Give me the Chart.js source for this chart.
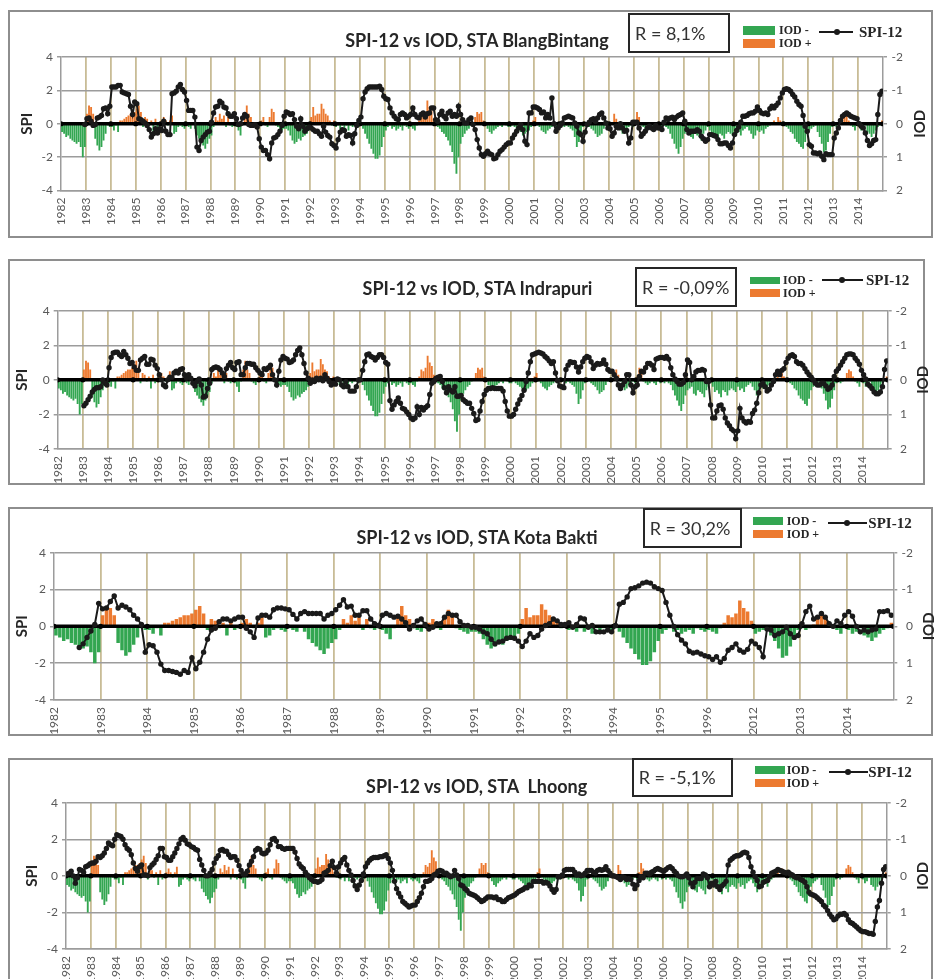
<!DOCTYPE html>
<html>
<head>
<meta charset="utf-8">
<title>SPI-12 vs IOD</title>
<script src="https://cdn.jsdelivr.net/npm/chart.js@4.4.0/dist/chart.umd.min.js"></script>
<style>
html,body{margin:0;padding:0;background:#fff}
body{position:relative;width:934px;height:979px;overflow:hidden;font-family:Lato,"Open Sans",sans-serif}
.box{position:absolute;border:2px solid #8e8e8e;box-sizing:border-box}
.cv{position:absolute;left:0}
.ttl{position:absolute;text-align:center;font-weight:700;font-size:18px;color:#262626;white-space:pre;line-height:20px;width:500px}
.rbox{position:absolute;box-sizing:border-box;border:2px solid #262626;background:#fff;font-size:18px;color:#333;display:flex;align-items:center;padding-left:5px;white-space:pre}
.sw{position:absolute}
.lt{position:absolute;font-family:"Liberation Serif",serif;font-weight:700;color:#262626;white-space:pre}
.ln{position:absolute;height:2px;background:#1a1a1a}
.dot{position:absolute;width:6px;height:6px;border-radius:50%;background:#1a1a1a}
</style>
</head>
<body>
<script>
// ---------------- DATA ----------------
const yearsFull = ['1982','1983','1984','1985','1986','1987','1988','1989','1990','1991','1992','1993','1994','1995','1996','1997','1998','1999','2000','2001','2002','2003','2004','2005','2006','2007','2008','2009','2010','2011','2012','2013','2014'];
const yearsKotaBakti = ['1982','1983','1984','1985','1986','1987','1988','1989','1990','1991','1992','1993','1994','1995','1996','2012','2013','2014'];
const stationTitles = ['SPI-12 vs IOD, STA BlangBintang','SPI-12 vs IOD, STA Indrapuri','SPI-12 vs IOD, STA Kota Bakti','SPI-12 vs IOD, STA  Lhoong'];
const correlationLabels = ['R = 8,1%','R = -0,09%','R = 30,2%','R = -5,1%'];
const legendLabels = ['IOD -','IOD +','SPI-12'];
const axisTitles = ['SPI','IOD'];

// monthly IOD, 1982-2014, values as read on the (reversed) right axis
const iodMonthly = [
 0.25,0.3,0.4,0.35,0.45,0.5,0.55,0.6,0.55,0.7,1.0,0.7,        //1982
 -0.3,-0.55,-0.5,-0.3,0.45,0.65,0.8,0.7,0.5,0.3,0.05,0.1,     //1983
 0.1,0.2,0.05,0.25,-0.1,-0.1,-0.15,-0.2,-0.25,-0.3,-0.3,-0.35,//1984
 -0.45,-0.55,-0.35,0.1,-0.2,-0.15,0.05,-0.1,0.25,-0.15,0.1,0.05,//1985
 -0.1,-0.2,-0.1,0.05,-0.1,-0.25,0.3,0.25,0.1,0.05,0.1,0.15,   //1986
 0.05,0.1,0.15,0.0,0.15,0.35,0.45,0.55,0.65,0.75,0.6,0.45,    //1987
 0.35,0.1,-0.2,-0.1,-0.3,-0.15,-0.25,0.1,-0.2,0.05,0.1,0.05,  //1988
 0.1,0.2,0.35,0.05,-0.3,-0.55,-0.3,-0.2,0.05,0.1,0.15,0.05,   //1989
 -0.1,-0.2,0.05,0.1,-0.2,-0.45,-0.35,0.05,0.1,0.15,0.2,0.15,  //1990
 0.15,0.2,0.35,0.5,0.6,0.55,0.45,0.5,0.4,0.35,0.3,0.2,        //1991
 -0.2,-0.5,-0.25,-0.3,-0.3,-0.6,-0.45,-0.3,-0.25,-0.1,0.05,-0.1,//1992
 0.1,0.05,0.15,0.05,0.15,0.05,0.2,0.05,0.1,0.05,0.05,0.1,     //1993
 0.05,0.15,0.3,0.45,0.6,0.75,0.9,1.05,1.05,0.95,0.7,0.4,      //1994
 0.2,0.1,0.05,0.15,0.1,0.2,0.15,0.1,0.2,0.05,0.1,0.15,        //1995
 0.1,0.15,0.2,0.05,-0.1,-0.3,-0.25,-0.35,-0.7,-0.5,-0.4,-0.15,//1996
 0.05,0.1,0.15,0.25,0.3,0.4,0.5,0.65,0.85,1.2,1.5,1.0,        //1997
 0.6,0.4,0.3,0.2,0.15,0.05,-0.05,-0.2,-0.35,-0.3,-0.35,-0.1,  //1998
 0.05,0.15,0.25,0.3,0.2,0.15,0.1,0.05,0.1,0.0,0.05,0.1,       //1999
 0.1,0.05,0.1,0.15,0.2,0.25,0.35,0.3,0.25,0.2,0.1,-0.1,       //2000
 -0.2,0.05,0.1,0.2,0.25,0.3,0.2,0.15,0.1,0.05,0.1,0.05,       //2001
 0.05,0.05,0.1,0.05,0.1,0.15,0.2,0.4,0.7,0.55,0.3,0.1,        //2002
 0.05,0.05,0.1,0.15,0.2,0.3,0.4,0.35,0.3,0.15,0.05,0.05,      //2003
 0.05,-0.05,-0.3,-0.15,0.05,0.2,0.3,0.25,0.15,0.1,0.05,0.1,   //2004
 -0.1,-0.35,-0.2,0.05,0.1,0.15,0.1,0.05,0.1,0.15,0.05,0.1,    //2005
 0.05,0.1,0.05,0.1,0.15,0.3,0.45,0.6,0.75,0.9,0.7,0.45,       //2006
 0.3,0.25,0.2,0.4,0.45,0.3,0.35,0.4,0.5,0.3,0.2,0.1,          //2007
 0.2,0.35,0.3,0.4,0.5,0.3,0.35,0.45,0.3,0.25,0.3,0.35,        //2008
 0.2,0.3,0.25,0.35,0.2,0.15,0.1,0.2,0.3,0.45,0.35,0.2,        //2009
 0.25,0.2,0.3,0.15,0.1,0.05,-0.05,-0.1,-0.05,-0.2,-0.1,0.05,  //2010
 0.05,0.1,0.15,0.25,0.3,0.45,0.55,0.6,0.7,0.75,0.55,0.3,      //2011
 0.2,0.15,0.1,0.05,0.25,0.4,0.6,0.85,0.8,0.55,0.3,0.1,        //2012
 0.05,0.1,0.05,-0.05,-0.2,-0.3,-0.25,-0.1,0.05,0.1,0.2,0.05,  //2013
 0.1,0.2,0.15,0.05,0.25,0.3,0.4,0.3,0.2,0.1,0.05,-0.1         //2014
];

const spiBlangBintang = [
 null,null,null,null,null,null,null,null,null,null,null,-0.05,
 0.3,0.35,0.15,-0.1,-0.05,0.35,0.4,0.5,0.9,0.95,0.6,1.05,
 2.2,2.2,2.2,2.3,2.3,1.9,1.85,1.8,1.75,1.05,0.55,1.3,
 1.2,0.3,0.25,0.15,0.05,-0.1,-0.35,-0.8,-0.6,-0.3,-0.55,-0.3,
 -0.4,0.15,-0.45,-0.65,-0.65,1.8,1.85,1.95,2.2,2.35,2.05,1.9,
 1.4,0.8,0.8,0.8,0.4,-1.4,-1.6,-1.0,-0.8,-0.65,-0.5,-0.45,
 0.1,0.65,1.0,1.05,1.35,1.25,1.0,0.95,0.6,0.45,0.45,0.6,
 0.3,-0.05,0.0,0.35,0.55,0.45,-0.05,-0.1,-0.1,-0.05,-0.2,-0.9,
 -1.4,-1.6,-1.6,-1.85,-2.1,-1.15,-0.85,-0.8,-0.65,-0.45,-0.1,0.45,
 0.7,0.65,0.55,0.6,0.25,-0.15,-0.3,0.3,-0.15,-0.45,-0.3,-0.2,
 -0.25,-0.35,-0.45,-0.45,-0.6,-0.75,-0.15,-0.5,-0.7,-0.8,-1.2,-1.3,
 -1.45,-0.95,-0.5,-0.35,-0.4,-0.75,-0.65,-0.7,-1.15,-0.6,-0.1,0.2,
 0.4,1.5,1.9,2.1,2.2,2.2,2.2,2.2,2.2,2.25,2.05,1.65,
 1.5,1.45,0.95,0.65,0.45,0.3,0.25,0.55,0.65,0.55,0.35,0.45,
 0.55,0.95,0.55,0.4,0.35,0.55,0.65,0.4,0.6,0.65,0.95,0.95,
 0.25,0.15,0.55,0.75,0.45,0.3,0.65,0.75,0.45,0.55,0.45,1.05,
 0.55,0.25,0.05,0.05,0.25,0.35,-0.05,-0.35,-0.95,-1.45,-1.85,-1.95,
 -1.8,-1.65,-1.8,-1.85,-2.1,-2.05,-1.85,-1.65,-1.55,-1.4,-1.25,-1.15,
 -1.15,-0.85,-0.65,-0.45,-0.25,-0.05,-0.35,-1.05,-1.25,0.65,0.65,1.0,
 1.0,0.95,0.85,0.65,0.7,0.35,0.55,0.35,1.55,0.0,-0.45,-0.25,
 -0.1,0.05,0.35,0.4,0.45,0.4,0.35,0.05,-0.15,-0.55,-0.65,-1.05,
 -0.5,-0.05,0.1,0.25,0.3,0.15,0.35,0.55,0.65,0.35,0.05,-0.25,
 -0.3,-0.75,-0.55,-0.15,-0.25,0.0,-0.25,-0.45,-0.4,-1.15,-0.85,0.1,
 0.1,0.1,-0.25,-0.75,-0.6,-0.45,-0.25,-0.15,-0.25,-0.35,-0.1,-0.25,
 -0.25,-0.35,0.1,0.35,0.25,0.35,0.4,0.25,0.4,0.5,0.55,0.65,
 0.15,-0.35,-0.55,-0.45,-0.45,-0.45,-0.35,-0.45,-0.75,-0.9,-1.05,-0.95,
 -0.65,-0.65,-0.7,-0.75,-0.95,-1.2,-1.2,-1.15,-1.15,-1.3,-1.45,-1.15,
 -0.65,-0.4,-0.2,0.1,0.45,0.45,0.5,0.6,0.65,0.65,0.75,1.0,
 0.8,0.65,0.6,0.65,0.55,0.9,1.05,0.95,1.1,1.25,1.55,1.85,
 2.05,2.1,2.05,1.95,1.75,1.6,1.35,1.15,1.05,0.5,-0.15,-0.45,
 -1.25,-1.35,-1.75,-1.75,-1.8,-1.75,-1.95,-2.15,-1.8,-1.85,-1.85,-1.85,
 -0.85,-0.55,-0.25,0.2,0.45,0.55,0.65,0.55,0.45,0.4,0.35,0.3,
 0.0,-0.15,-0.25,-0.55,-1.0,-1.3,-1.2,-1.0,-0.95,0.55,1.75,1.95
];

const spiIndrapuri = [
 null,null,null,null,null,null,null,null,null,null,null,null,
 -1.5,-1.35,-1.15,-0.95,-0.7,-0.55,-0.45,-0.45,-0.4,0.0,-0.2,-0.3,
 0.7,1.3,1.55,1.6,1.6,1.45,1.35,1.65,1.45,1.25,0.95,1.0,
 0.75,0.55,0.55,1.15,1.25,1.35,0.9,0.9,1.2,1.15,0.85,0.65,
 0.3,0.0,-0.3,-0.4,0.0,0.15,0.15,0.4,0.5,0.4,0.6,0.65,
 0.3,0.1,0.3,0.1,-0.2,-0.35,-0.1,0.05,-0.3,-1.0,-0.95,-0.5,
 -0.2,0.6,0.7,0.75,0.7,0.6,0.4,0.2,0.65,0.85,1.0,0.7,
 0.6,1.0,1.05,0.3,0.3,0.7,0.95,0.95,0.9,0.9,0.7,0.55,
 0.4,0.3,0.65,0.6,0.7,0.85,0.3,0.0,-0.3,0.5,1.15,1.35,
 1.25,1.2,1.0,1.05,1.15,1.45,1.7,1.85,1.45,0.95,0.4,0.1,
 -0.2,0.0,-0.1,0.1,0.0,0.1,-0.05,0.3,0.1,-0.1,-0.3,-0.2,
 -0.25,0.05,0.0,-0.3,-0.4,-0.1,-0.4,-0.65,-0.65,-0.65,-0.4,0.0,
 0.0,0.55,1.05,1.45,1.5,1.35,1.3,1.15,1.3,1.45,1.45,1.3,
 1.0,0.9,-1.2,-1.7,-1.45,-1.25,-1.05,-1.35,-1.65,-1.7,-1.85,-2.0,
 -2.2,-2.3,-2.2,-1.55,-2.0,-1.6,-1.75,-1.6,-1.5,-0.85,-0.2,-0.1,
 0.1,0.15,0.2,-0.1,-0.45,-0.75,-0.4,-0.6,-0.7,-0.4,-0.95,-0.95,
 -0.9,-1.15,-1.25,-1.35,-1.35,-1.65,-1.95,-2.35,-2.3,-1.8,-1.25,-0.85,
 -0.6,-0.5,-0.5,-0.45,-0.5,-0.5,-0.5,-0.5,-0.65,-1.25,-1.8,-2.1,
 -2.1,-2.0,-1.7,-1.4,-1.15,-0.9,-0.6,-0.1,0.4,1.05,1.45,1.5,
 1.55,1.6,1.55,1.5,1.35,1.25,1.1,0.95,1.05,0.4,-0.05,-0.35,
 -0.4,-0.45,0.6,0.85,1.05,1.0,1.0,0.75,0.45,0.75,1.05,1.25,
 1.35,1.3,1.05,0.65,0.85,0.95,0.9,0.95,1.15,0.9,0.6,0.5,
 0.5,0.3,0.1,-0.3,-0.5,-0.3,-0.1,0.3,0.3,-0.3,-0.75,-0.4,
 -0.3,0.2,0.5,0.45,0.7,0.95,0.95,0.85,0.6,1.2,1.25,1.3,
 1.3,1.25,1.35,1.2,0.7,0.3,0.05,-0.1,-0.25,-0.25,-0.15,0.3,
 1.15,1.0,0.0,0.2,0.45,0.55,0.55,0.6,0.55,-0.1,-0.1,-1.45,
 -2.2,-2.2,-1.8,-1.5,-1.45,-1.7,-2.2,-2.5,-2.65,-2.85,-2.95,-3.4,
 -2.95,-1.65,-2.2,-2.4,-2.5,-2.4,-2.45,-1.95,-1.75,-1.35,-0.75,-0.3,
 -0.2,-0.4,-0.65,-0.55,-0.3,-0.1,0.3,0.5,0.3,0.55,0.65,1.0,
 1.25,1.4,1.45,1.35,1.05,0.95,0.95,0.85,0.65,0.45,0.3,0.15,
 0.0,-0.2,-0.3,-0.3,-0.2,-0.2,-0.35,-0.55,-0.45,-0.3,0.2,0.5,
 0.65,0.85,1.05,1.25,1.45,1.5,1.5,1.45,1.25,1.1,0.9,0.55,
 0.3,0.05,-0.25,-0.35,-0.5,-0.7,-0.8,-0.8,-0.7,-0.4,0.6,1.1
];

// Kota Bakti: 1982-1996 then 2012-2014
const spiKotaBakti = [
 null,null,null,null,null,null,-1.15,-0.95,-0.6,-0.25,0.1,1.25,
 0.95,1.0,1.35,1.65,1.0,1.15,1.05,0.9,0.6,0.4,0.1,-1.4,
 -1.0,-1.05,-1.4,-2.05,-2.4,-2.4,-2.45,-2.5,-2.6,-2.4,-2.5,-1.7,
 -2.3,-1.95,-1.4,-0.7,-0.2,-0.1,0.25,0.4,0.4,0.3,0.4,0.5,
 0.5,-0.1,-0.3,-0.6,0.45,0.6,0.6,0.5,0.9,1.0,1.0,0.95,
 0.9,0.65,0.4,0.7,0.8,0.7,0.7,0.7,0.7,0.4,0.6,0.7,
 0.9,1.15,1.45,1.05,1.1,0.6,0.6,0.85,0.85,0.4,0.15,0.05,
 0.6,0.7,0.6,0.5,0.55,0.4,0.2,-0.15,0.05,0.3,0.4,0.1,
 -0.15,-0.05,0.15,0.15,0.5,0.7,0.6,0.6,0.25,0.05,0.05,-0.05,
 -0.05,-0.15,-0.3,-0.4,-0.7,-0.95,-0.85,-0.8,-0.65,-0.6,-0.65,-0.8,
 -1.1,-0.8,-0.4,-0.6,-0.5,-0.15,0.05,0.15,0.4,0.3,0.1,0.1,
 0.2,-0.05,0.1,0.45,0.4,-0.05,0.05,-0.3,-0.3,-0.3,-0.2,-0.3,
 0.05,1.2,1.3,1.6,2.05,2.1,2.2,2.35,2.4,2.35,2.15,2.05,
 1.95,1.3,0.6,0.0,-0.45,-0.75,-0.95,-1.35,-1.45,-1.4,-1.5,-1.6,
 -1.65,-1.8,-1.65,-1.95,-1.75,-1.3,-1.15,-0.95,-1.3,-1.4,-1.25,-0.8,
 -0.95,-1.15,-1.65,-0.15,-0.2,-0.5,-0.4,-0.3,-0.05,-0.4,-0.6,-0.5,
 0.15,0.8,1.1,0.4,0.5,0.7,0.5,0.15,0.0,0.3,0.15,0.6,
 0.8,0.55,0.0,-0.3,-0.2,-0.3,-0.2,-0.15,0.8,0.8,0.85,0.6
];

const spiLhoong = [
 0.1,0.15,0.25,0.0,-0.4,-0.1,0.35,0.3,0.2,0.5,0.55,0.65,
 0.7,0.7,0.8,1.05,1.0,1.1,1.25,1.5,1.8,1.7,1.65,2.0,
 2.25,2.2,2.15,2.0,1.7,1.5,1.4,1.15,0.7,0.4,0.25,0.5,
 0.6,0.05,0.05,0.0,0.45,0.6,0.7,0.9,1.1,1.5,1.5,1.05,
 1.0,0.85,0.85,1.05,1.25,1.5,1.75,2.0,2.1,1.95,1.75,1.7,
 1.6,1.55,1.45,1.4,0.9,0.6,0.3,0.0,0.0,0.15,0.35,0.7,
 0.95,1.1,1.4,1.45,1.35,1.35,1.15,1.0,1.05,1.05,0.85,0.55,
 0.3,0.1,0.1,0.25,0.6,0.8,1.05,1.4,1.5,1.45,1.25,1.2,
 1.25,1.4,1.7,2.0,2.05,1.9,1.6,1.6,1.5,1.45,1.5,1.5,
 1.5,1.5,1.3,0.95,0.65,0.5,0.4,0.2,0.05,-0.1,-0.2,-0.3,
 -0.3,-0.35,-0.3,-0.2,0.15,0.2,0.3,0.55,0.8,0.45,0.15,0.5,
 0.7,0.9,1.0,0.6,0.3,0.05,-0.25,-0.55,-0.75,-0.5,-0.25,0.1,
 0.5,0.7,0.85,0.95,1.0,1.0,1.0,1.05,1.05,1.1,1.15,0.95,
 0.7,0.3,-0.3,-0.7,-0.95,-1.15,-1.4,-1.5,-1.6,-1.7,-1.65,-1.6,
 -1.6,-1.4,-1.2,-0.95,-0.6,-0.3,-0.3,-0.25,-0.15,0.05,0.1,0.25,
 0.3,0.25,0.15,0.15,0.05,-0.05,0.0,0.3,0.05,-0.15,-0.5,-0.55,
 -0.7,-0.8,-0.95,-1.0,-1.05,-1.1,-1.2,-1.3,-1.4,-1.35,-1.25,-1.15,
 -1.15,-1.15,-1.2,-1.15,-1.3,-1.3,-1.4,-1.4,-1.3,-1.2,-1.15,-1.1,
 -1.05,-0.95,-0.85,-0.8,-0.75,-0.65,-0.65,-0.5,-0.55,-0.3,-0.3,-0.3,
 -0.3,-0.3,-0.4,-0.35,-0.4,-0.55,-0.75,-0.9,-0.75,-0.05,-0.05,0.05,
 0.3,0.35,0.35,0.35,0.35,0.2,0.05,0.1,0.0,0.05,0.15,0.3,
 0.3,0.3,0.2,0.15,0.3,0.35,0.3,0.35,0.5,0.3,0.15,0.0,
 0.0,-0.05,-0.1,-0.2,-0.05,-0.1,-0.2,-0.15,-0.2,-0.45,-0.7,-0.5,
 -0.25,-0.05,-0.1,0.15,0.15,0.1,0.2,0.25,0.35,0.4,0.35,0.3,
 0.25,0.35,0.45,0.5,0.4,0.25,0.15,0.0,-0.05,-0.05,0.0,0.1,
 -0.1,-0.4,-0.6,-0.35,-0.15,-0.15,-0.15,0.1,0.05,-0.1,-0.6,-0.4,
 -0.5,-0.3,-0.6,-0.75,-0.55,-0.45,-0.3,0.6,0.85,0.95,1.05,1.1,
 1.1,1.15,1.25,1.3,1.25,1.0,0.5,0.2,-0.05,-0.25,-0.6,-0.55,
 -0.35,-0.3,-0.25,-0.05,0.15,0.2,0.25,0.35,0.3,0.25,0.2,0.15,
 0.2,0.1,0.05,-0.05,-0.1,-0.1,-0.2,-0.25,-0.35,-0.6,-0.9,-1.0,
 -1.05,-1.1,-1.2,-1.3,-1.4,-1.6,-1.7,-1.9,-2.1,-2.25,-2.4,-2.35,
 -2.2,-2.1,-2.1,-2.05,-2.15,-2.4,-2.55,-2.6,-2.7,-2.8,-2.9,-3.0,
 -3.05,-3.05,-3.1,-3.15,-3.15,-3.2,-2.5,-1.7,-1.35,-0.4,0.35,0.5
];

// IOD for Kota Bakti built from the shared series (1982-1996 and 2012-2014)
const iodKotaBakti = iodMonthly.slice(0, 180).concat(iodMonthly.slice(360, 396));

// ---------------- STYLE / LAYOUT ----------------
const GREEN = '#33a651', ORANGE = '#ec7a30', GRID = '#9c9c9c', TAN = '#c8bc96', TICK = '#595959', INK = '#262626';
Chart.defaults.font.family = 'Lato';

const layouts = [
 {box:[8,10,933,238], plot:[61,57,883,190.5], labR:903, spiX:26.7, iodX:920, title:[477,40], rbox:[628,13,730,53],
  sw:[743,775], gy:[26,35], oy:[39.3,48.3], tx:779, tgy:30.7, toy:43.3, line:[819,853,31.7], dot:837.3, sx:859},
 {box:[8,259,925,485], plot:[57.7,310.7,887.7,449], labR:907, spiX:21.7, iodX:922.7, title:[477.5,288], rbox:[635,267,737,307],
  sw:[750,780], gy:[276.7,284.3], oy:[289,297], tx:783, tgy:280, toy:293.3, line:[822,863,280], dot:841.7, sx:866},
 {box:[8,507,933,736], plot:[54,552.7,893.3,700], labR:913, spiX:21.7, iodX:929, title:[477,536.7], rbox:[642.7,508.3,741.7,548.3],
  sw:[752.7,783.3], gy:[516.7,525], oy:[530,538.3], tx:786.7, tgy:521, toy:534.3, line:[828.3,866.7,522.7], dot:846.7, sx:868.3},
 {box:[8,758,933,1000], plot:[66,802.7,886.7,949], labR:907, spiX:31.7, iodX:923, title:[476.7,786], rbox:[631.7,758.3,732.7,796.7],
  sw:[755,785], gy:[766,774], oy:[779.3,787.3], tx:786.7, tgy:770, toy:783.3, line:[829.3,868.3,771.7], dot:847.7, sx:868.3}
];

const rightTitlePlugin = {
  id: 'rightTitle',
  afterDraw(chart, args, opts) {
    const {ctx, chartArea} = chart;
    ctx.save();
    ctx.font = opts.font; ctx.fillStyle = opts.color;
    ctx.textAlign = 'center'; ctx.textBaseline = 'middle';
    ctx.translate(opts.x, (chartArea.top + chartArea.bottom) / 2);
    ctx.rotate(-Math.PI / 2);
    ctx.fillText(opts.text, 0, 0);
    ctx.restore();
  }
};

function el(cls, css, text) {
  const d = document.createElement('div');
  d.className = cls;
  Object.assign(d.style, css);
  if (text !== undefined) d.textContent = text;
  document.body.appendChild(d);
  return d;
}

function buildPanel(L, spi, iod, years, title, rText) {
  const top = L.box[1];
  const H = Math.min(L.box[3], 979) - top;
  el('box', {left:L.box[0]+'px', top:top+'px', width:(L.box[2]-L.box[0])+'px', height:(L.box[3]-top)+'px'});

  const cv = document.createElement('canvas');
  cv.className = 'cv'; cv.width = 934; cv.height = H;
  cv.style.top = top + 'px'; cv.style.width = '934px'; cv.style.height = H + 'px';
  document.body.appendChild(cv);

  const [pL, pT, pR, pB] = L.plot;
  const nMonths = years.length * 12;
  const wl = pL - 10;
  const wr = L.labR - pR;
  const padR = 934 - L.labR;
  const xh = Math.min(34, H - (pB - top));
  const padB = Math.max(0, H - (pB - top) - xh);

  new Chart(cv, {
    type: 'bar',
    data: { datasets: [
      {type:'line', label:legendLabels[2], data: spi.map((v,i)=>({x:i+0.5, y:v})), yAxisID:'y',
       borderColor:'#1a1a1a', backgroundColor:'#1a1a1a', borderWidth:2, pointRadius:2.7, pointHoverRadius:2.7,
       pointBorderWidth:0, pointBackgroundColor:'#1a1a1a', spanGaps:false, tension:0, order:1},
      {type:'line', label:'0', data: years.map((_,k)=>({x:12*k, y:0})).concat([{x:nMonths, y:0}]), yAxisID:'y',
       borderColor:'#000', borderWidth:3.5, pointRadius:2.6, pointHoverRadius:2.6, pointBorderWidth:0, pointBackgroundColor:'#000', order:2},
      {label:legendLabels[0], data: iod.map((v,i)=>({x:i+0.5, y: v>0 ? v : null})), yAxisID:'y2',
       backgroundColor:GREEN, grouped:false, barPercentage:0.9, categoryPercentage:1, order:3},
      {label:legendLabels[1], data: iod.map((v,i)=>({x:i+0.5, y: v<0 ? v : null})), yAxisID:'y2',
       backgroundColor:ORANGE, grouped:false, barPercentage:0.9, categoryPercentage:1, order:3}
    ]},
    options: {
      responsive:false, animation:false, devicePixelRatio:1,
      layout:{padding:{left:10, right:padR, top:pT - top, bottom:padB}},
      plugins:{legend:{display:false}, tooltip:{enabled:false},
        rightTitle:{text:axisTitles[1], x:L.iodX, font:'bold 15px Lato', color:INK}},
      scales:{
        x:{type:'linear', min:0, max:nMonths, offset:false,
           afterFit:s=>{s.height = xh;},
           grid:{offset:false, drawTicks:false, lineWidth:1.8,
                 color:c=>{const v = c.tick ? c.tick.value : -1; return (v>0 && v<nMonths) ? TAN : 'rgba(0,0,0,0)';}},
           border:{display:true, color:GRID, width:1.5},
           ticks:{stepSize:12, autoSkip:false, maxTicksLimit:1000, maxRotation:90, minRotation:90, padding:7,
                  color:TICK, font:{size:12},
                  callback:v=>{const k = v/12; return (Number.isInteger(k) && k < years.length) ? years[k] : '';}}},
        y:{position:'left', min:-4, max:4, afterFit:s=>{s.width = wl;},
           ticks:{stepSize:2, color:TICK, font:{size:12}, padding:4},
           grid:{color:GRID, lineWidth:1.5, tickLength:4},
           border:{color:GRID, width:1.5},
           title:{display:true, text:axisTitles[0], font:{size:15, weight:'bold'}, color:INK,
                  padding:{top:Math.max(0, L.spiX - 19), bottom:0}}},
        y2:{position:'right', reverse:true, min:-2, max:2, afterFit:s=>{s.width = wr;},
            ticks:{stepSize:1, color:TICK, font:{size:12}, padding:5, crossAlign:'far'},
            grid:{drawOnChartArea:false, color:GRID, lineWidth:1.5, tickLength:4},
            border:{color:GRID, width:1.5}}
      }
    },
    plugins:[rightTitlePlugin]
  });

  // title
  el('ttl', {left:(L.title[0]-250)+'px', top:(L.title[1]-10)+'px'}, title);
  // R box
  const [rx1, ry1, rx2, ry2] = L.rbox;
  el('rbox', {left:rx1+'px', top:ry1+'px', width:(rx2-rx1)+'px', height:(ry2-ry1)+'px'}, rText);
  // legend
  el('sw', {left:L.sw[0]+'px', top:L.gy[0]+'px', width:(L.sw[1]-L.sw[0])+'px', height:(L.gy[1]-L.gy[0])+'px', background:GREEN});
  el('sw', {left:L.sw[0]+'px', top:L.oy[0]+'px', width:(L.sw[1]-L.sw[0])+'px', height:(L.oy[1]-L.oy[0])+'px', background:ORANGE});
  el('lt', {left:L.tx+'px', top:(L.tgy-7.5)+'px', fontSize:'12px', lineHeight:'15px'}, legendLabels[0]);
  el('lt', {left:L.tx+'px', top:(L.toy-7.5)+'px', fontSize:'12px', lineHeight:'15px'}, legendLabels[1]);
  el('ln', {left:L.line[0]+'px', top:(L.line[2]-1)+'px', width:(L.line[1]-L.line[0])+'px'});
  el('dot', {left:(L.dot-3)+'px', top:(L.line[2]-3)+'px'});
  el('lt', {left:L.sx+'px', top:(L.line[2]-9)+'px', fontSize:'15px', lineHeight:'18px'}, legendLabels[2]);
}

buildPanel(layouts[0], spiBlangBintang, iodMonthly, yearsFull, stationTitles[0], correlationLabels[0]);
buildPanel(layouts[1], spiIndrapuri, iodMonthly, yearsFull, stationTitles[1], correlationLabels[1]);
buildPanel(layouts[2], spiKotaBakti, iodKotaBakti, yearsKotaBakti, stationTitles[2], correlationLabels[2]);
buildPanel(layouts[3], spiLhoong, iodMonthly, yearsFull, stationTitles[3], correlationLabels[3]);
</script>
</body>
</html>
